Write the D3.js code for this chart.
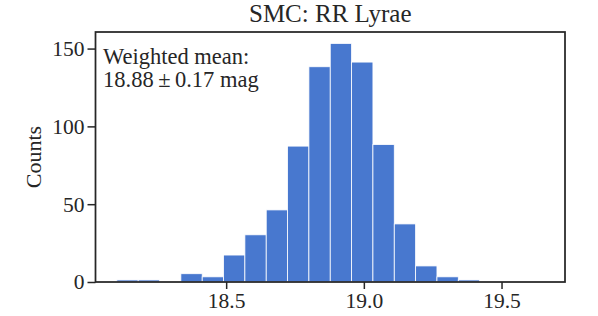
<!DOCTYPE html>
<html><head><meta charset="utf-8">
<script src="https://cdn.jsdelivr.net/npm/d3@7"></script>
<style>body{margin:0;background:#fff}svg text{font-family:"Liberation Serif","DejaVu Serif",serif;fill:#262626}</style>
</head><body><svg id="c" width="598" height="316"></svg>
<script>
const binStart = 18.103;
const binWidth = 0.0775;
const counts = [1, 1, 0, 5, 3, 17, 30, 46, 87, 138, 153, 141, 88, 37, 10, 3, 1, 0, 0, 0];
const xTicks = [18.5, 19.0, 19.5];
const yTicks = [0, 50, 100, 150];
const title = "SMC: RR Lyrae";
const yLabel = "Counts";
const note = ["Weighted mean:", "18.88\u2009±\u20090.17 mag"];

const bins = counts.map((c, i) => ({x0: binStart + i * binWidth, x1: binStart + (i + 1) * binWidth, c}));
const lo = bins[0].x0, hi = bins[bins.length - 1].x1, pad = (hi - lo) * 0.05;
const m = {l: 95.5, r: 565, t: 32, b: 282};
const svg = d3.select("#c");
const x = d3.scaleLinear().domain([lo - pad, hi + pad]).range([m.l, m.r]);
const y = d3.scaleLinear().domain([0, d3.max(counts) * 1.05]).range([m.b, m.t]);

svg.append("g").selectAll("rect").data(bins.filter(d => d.c > 0)).join("rect")
  .attr("x", d => x(d.x0)).attr("width", d => x(d.x1) - x(d.x0))
  .attr("y", d => y(d.c) - 0.5).attr("height", d => y(0) - y(d.c) + 0.5)
  .attr("fill", "#4878cf").attr("stroke", "#fff").attr("stroke-width", 0.8);

const xa = svg.append("g").attr("transform", `translate(0,${m.b})`)
  .call(d3.axisBottom(x).tickValues(xTicks).tickFormat(d3.format(".1f")).tickSize(7).tickPadding(4));
const ya = svg.append("g").attr("transform", `translate(${m.l},0)`)
  .call(d3.axisLeft(y).tickValues(yTicks).tickSize(8).tickPadding(3));
[xa, ya].forEach(a => {
  a.select(".domain").remove();
  a.selectAll("line").attr("stroke", "#262626").attr("stroke-width", 1.5);
  a.selectAll("text").attr("font-size", 21.5).attr("fill", "#262626")
    .attr("font-family", '"Liberation Serif",serif');
});
svg.append("rect").attr("x", m.l).attr("y", m.t).attr("width", m.r - m.l).attr("height", m.b - m.t)
  .attr("fill", "none").attr("stroke", "#262626").attr("stroke-width", 1.75);

svg.append("text").attr("x", (m.l + m.r) / 2).attr("y", 22).attr("text-anchor", "middle")
  .attr("font-size", 25).text(title);
svg.append("text").attr("transform", `translate(41,${(m.t + m.b) / 2}) rotate(-90)`)
  .attr("text-anchor", "middle").attr("font-size", 22).text(yLabel);
svg.append("text").attr("x", 103).attr("y", 64).attr("font-size", 22.5).text(note[0]);
svg.append("text").attr("x", 103).attr("y", 87).attr("font-size", 22.5).text(note[1]);
</script></body></html>
